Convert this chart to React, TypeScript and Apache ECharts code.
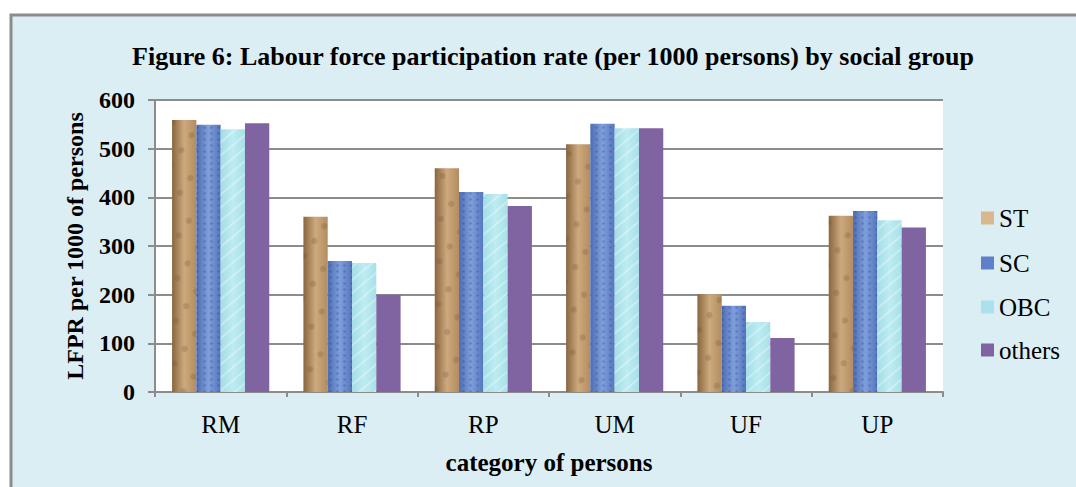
import React, { useEffect, useRef } from "react";
import * as echarts from "echarts";

const categories = ["RM", "RF", "RP", "UM", "UF", "UP"];
const seriesNames = ["ST", "SC", "OBC", "others"];
const stValues = [559, 360, 460, 509, 201, 362];
const scValues = [549, 269, 411, 551, 177, 372];
const obcValues = [540, 265, 407, 542, 144, 353];
const othersValues = [552, 200, 382, 542, 111, 338];
const yTicks = [0, 100, 200, 300, 400, 500, 600];

const FONT = "Liberation Serif";

export default function App() {
  const ref = useRef<HTMLDivElement>(null);
  useEffect(() => {
    if (!ref.current) return;
    const chart = echarts.init(ref.current, undefined, { renderer: "svg" });
    const grad = (c1: string, c2: string, c3: string) =>
      new echarts.graphic.LinearGradient(0, 0, 1, 0, [
        { offset: 0, color: c1 },
        { offset: 0.5, color: c2 },
        { offset: 1, color: c3 },
      ]);
    const colors = [
      grad("#8A6640", "#CDA97D", "#B38D60"),
      grad("#4D6DB3", "#7F9EDB", "#5576BD"),
      grad("#A4DDE6", "#BDECF2", "#A8E0E8"),
      "#8064A2",
    ];
    const decals: any[] = [
      { symbol: "circle", symbolSize: 0.9, color: "rgba(110,80,45,0.25)", dashArrayX: [9, 14], dashArrayY: [7, 11], rotation: 0.6 },
      { symbol: "rect", symbolSize: 0.7, color: "rgba(35,60,130,0.35)", dashArrayX: [3, 4], dashArrayY: [3, 3], rotation: 0 },
      { symbol: "rect", symbolSize: 1, color: "rgba(255,255,255,0.3)", dashArrayX: [1, 0], dashArrayY: [2, 8], rotation: -0.7 },
      null,
    ];
    const legendColors = ["#D9B88D", "#5F80C8", "#A9E2EC", "#8064A2"];
    const legendY = [218, 263, 307, 350];
    const data = [stValues, scValues, obcValues, othersValues];
    const legendGraphics: any[] = [];
    seriesNames.forEach((n, i) => {
      legendGraphics.push({
        type: "rect",
        shape: { x: 981, y: legendY[i] - 6.5, width: 13, height: 13 },
        style: { fill: legendColors[i] },
      });
      legendGraphics.push({
        type: "text",
        x: 999,
        y: legendY[i],
        style: {
          text: n,
          font: "25px 'Liberation Serif', serif",
          fontFamily: FONT,
          fontSize: 25,
          fill: "#000",
          verticalAlign: "middle",
        },
      });
    });
    chart.setOption({
      animation: false,
      backgroundColor: "transparent",
      textStyle: { fontFamily: FONT },
      graphic: [
        {
          type: "rect",
          z: -10,
          shape: { x: 11, y: 15, width: 1080, height: 480 },
          style: { fill: "#DBEEF4", stroke: "#8C8C8C", lineWidth: 3 },
        },
        ...legendGraphics,
      ],
      title: {
        text: "Figure 6: Labour force participation rate (per 1000 persons) by social group",
        left: 548,
        textAlign: "center",
        top: 38,
        textStyle: { fontFamily: FONT, fontWeight: "bold", fontSize: 26, color: "#000" },
      },
      legend: { show: false, data: seriesNames },
      grid: {
        left: 155,
        right: 133,
        top: 100,
        bottom: 95,
        show: true,
        backgroundColor: "#FFFFFF",
        borderWidth: 0,
      },
      xAxis: {
        type: "category",
        data: categories,
        name: "category of persons",
        nameLocation: "middle",
        nameGap: 58,
        nameTextStyle: { fontFamily: FONT, fontWeight: "bold", fontSize: 25, color: "#000" },
        axisLine: { lineStyle: { color: "#8C8C8C", width: 2 } },
        axisTick: { show: true, length: 5, lineStyle: { color: "#8C8C8C", width: 2 } },
        axisLabel: { fontFamily: FONT, fontSize: 25, color: "#000", margin: 20 },
      },
      yAxis: {
        type: "value",
        min: yTicks[0],
        max: yTicks[yTicks.length - 1],
        interval: 100,
        name: "LFPR per 1000 of persons",
        nameLocation: "middle",
        nameGap: 68,
        nameRotate: 90,
        nameTextStyle: { fontFamily: FONT, fontWeight: "bold", fontSize: 24, color: "#000" },
        axisLine: { show: true, lineStyle: { color: "#8C8C8C", width: 2 } },
        axisTick: { show: true, length: 7, lineStyle: { color: "#8C8C8C", width: 2 } },
        axisLabel: { fontFamily: FONT, fontWeight: "bold", fontSize: 24, color: "#000", margin: 20 },
        splitLine: { lineStyle: { color: "#8C8C8C", width: 2 } },
      },
      series: seriesNames.map((name, i) => ({
        name,
        type: "bar",
        data: data[i],
        barGap: "0%",
        barCategoryGap: "26%",
        itemStyle: decals[i] ? { color: colors[i], decal: decals[i] } : { color: colors[i] },
      })),
    });
    return () => chart.dispose();
  }, []);
  return (
    <div
      ref={ref}
      style={{ position: "absolute", left: 0, top: 0, width: 1076, height: 487 }}
    />
  );
}
